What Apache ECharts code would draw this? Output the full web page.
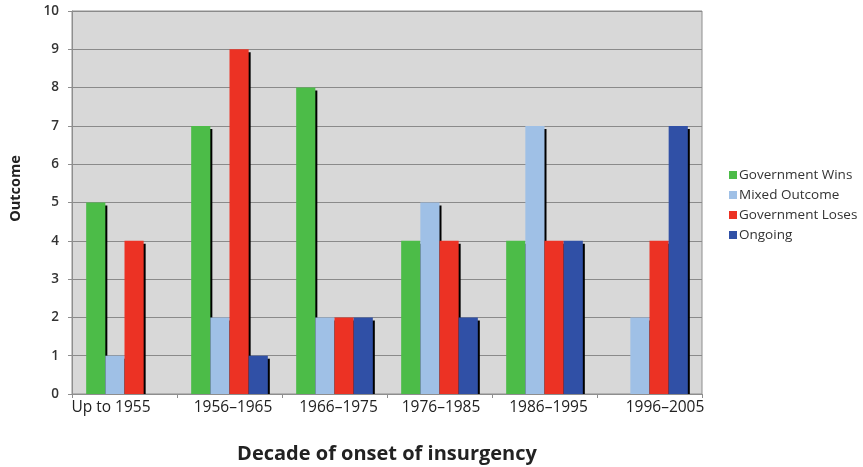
<!DOCTYPE html>
<html>
<head>
<meta charset="utf-8">
<script src="https://cdn.jsdelivr.net/npm/echarts@6/dist/echarts.min.js"></script>
<style>
  html, body { margin: 0; padding: 0; background: #ffffff; }
  #chart { width: 863px; height: 467px; }
</style>
</head>
<body>
<div id="chart"></div>
<script>
// Insurgency outcomes by decade of onset
const decades = ['Up to 1955', '1956\u20131965', '1966\u20131975', '1976\u20131985', '1986\u20131995', '1996\u20132005'];
const governmentWins = [5, 7, 8, 4, 4, null];
const mixedOutcome = [1, 2, 2, 5, 7, 2];
const governmentLoses = [4, 9, 2, 4, 4, 4];
const ongoing = [null, 1, 2, 2, 4, 7];
const yTicks = [0, 1, 2, 3, 4, 5, 6, 7, 8, 9, 10];

const seriesDefs = [
  { name: 'Government Wins', data: governmentWins, color: '#4cbc48' },
  { name: 'Mixed Outcome', data: mixedOutcome, color: '#9fc0e6' },
  { name: 'Government Loses', data: governmentLoses, color: '#ec3224' },
  { name: 'Ongoing', data: ongoing, color: '#3050a6' }
];

// horizontal nudge (px) of each category caption from its slot centre
const captionNudge = [-13.5, 3.5, 4, 1.5, 4, 15.5];

const captionFont = { fontFamily: 'Open Sans', fontSize: 15.5, color: '#222222' };
const captionRich = {};
captionNudge.forEach(function (n, i) {
  captionRich['c' + i] = Object.assign({}, captionFont, {
    padding: n >= 0 ? [0, 0, 0, 2 * n] : [0, -2 * n, 0, 0]
  });
});

const chart = echarts.init(document.getElementById('chart'), null, { renderer: 'canvas' });

chart.setOption({
  backgroundColor: '#ffffff',
  animation: false,
  grid: {
    left: 72, right: 161, top: 11, bottom: 73,
    outerBoundsMode: 'none',
    containLabel: false,
    show: true,
    backgroundColor: '#d8d8d8',
    borderColor: '#8e8e8e',
    borderWidth: 1
  },
  legend: {
    orient: 'vertical',
    left: 724,
    top: 163,
    itemWidth: 8,
    itemHeight: 8,
    itemGap: 6,
    icon: 'rect',
    textStyle: { fontFamily: 'Open Sans', fontSize: 13.5, color: '#333333', padding: [0, 0, 0, -3] },
    data: seriesDefs.map(s => s.name)
  },
  // strip below the baseline that hides the lower edge of the bar shadows
  graphic: [{
    type: 'rect',
    z: 3,
    shape: { x: 60, y: 395, width: 660, height: 6 },
    style: { fill: '#ffffff' }
  }],
  xAxis: {
    type: 'category',
    z: 5,
    data: decades,
    name: 'Decade of onset of insurgency',
    nameLocation: 'middle',
    nameGap: 50,
    nameTextStyle: { fontFamily: 'Open Sans', fontSize: 20, fontWeight: 'bold', color: '#222222' },
    axisLine: { show: true, lineStyle: { color: '#8e8e8e', width: 1 } },
    axisTick: { show: true, length: 4, lineStyle: { color: '#8e8e8e' } },
    axisLabel: {
      interval: 0,
      margin: 6,
      fontFamily: 'Open Sans',
      fontSize: 15.5,
      color: '#222222',
      formatter: function (v, i) { return '{c' + i + '|' + v + '}'; },
      rich: captionRich
    },
    splitLine: { show: false }
  },
  yAxis: {
    type: 'value',
    min: yTicks[0],
    max: yTicks[yTicks.length - 1],
    interval: 1,
    name: 'Outcome',
    nameLocation: 'middle',
    nameGap: 49,
    nameRotate: 90,
    nameTextStyle: { fontFamily: 'Open Sans', fontSize: 14.5, fontWeight: 'bold', color: '#222222', padding: [0, 0, 0, 28] },
    axisLine: { show: true, lineStyle: { color: '#8e8e8e', width: 1 } },
    axisTick: { show: true, inside: false, length: 4, lineStyle: { color: '#8e8e8e' } },
    axisLabel: { margin: 13, fontFamily: 'Open Sans', fontSize: 13.5, fontWeight: 600, color: '#333333' },
    splitLine: { show: true, lineStyle: { color: '#8a8a8a', width: 1.2 } }
  },
  series: seriesDefs.map(s => ({
    type: 'bar',
    name: s.name,
    data: s.data,
    barGap: '0%',
    barCategoryGap: '27%',
    itemStyle: {
      color: s.color,
      shadowColor: '#000000',
      shadowBlur: 0,
      shadowOffsetX: 2,
      shadowOffsetY: 3
    }
  }))
});
</script>
</body>
</html>
